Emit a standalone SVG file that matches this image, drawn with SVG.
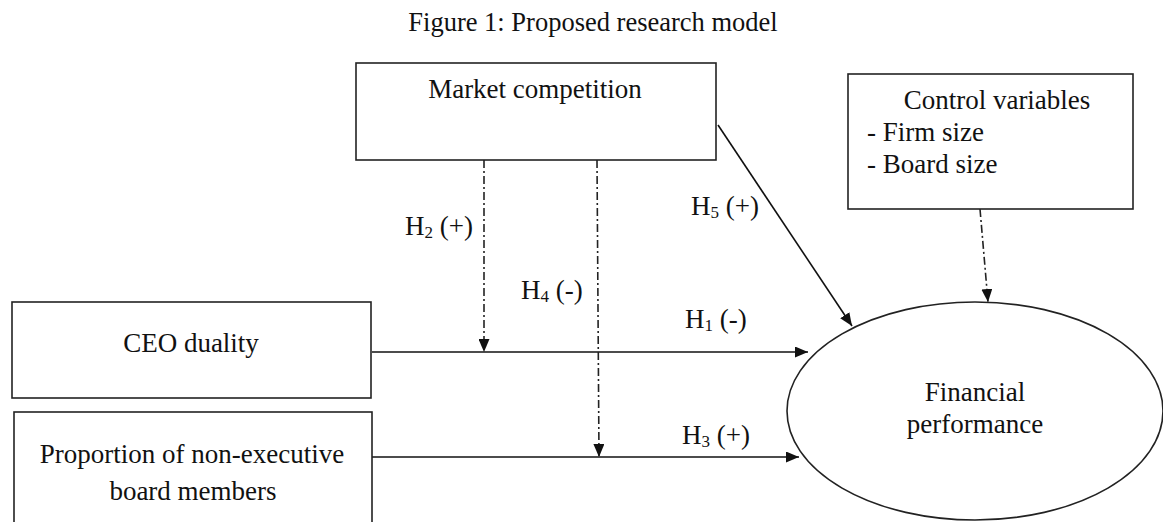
<svg xmlns="http://www.w3.org/2000/svg" width="1163" height="522" viewBox="0 0 1163 522">
<style>
text{font-family:"Liberation Serif","Times New Roman",serif;font-size:27px;fill:#111}
.title{font-size:26.5px}
.box{fill:#fff;stroke:#222;stroke-width:1.6}
.solid{stroke:#111;stroke-width:1.6;fill:none}
.dash{stroke:#222;stroke-width:1.6;fill:none;stroke-dasharray:8 3 2 3}
.sub{font-size:17px}
</style>
<defs>
<marker id="ah" markerUnits="userSpaceOnUse" markerWidth="14" markerHeight="11" refX="13" refY="5.5" orient="auto">
<path d="M0,0 L13,5.5 L0,11 z" fill="#111"/>
</marker>
</defs>
<rect width="1163" height="522" fill="#fff"/>
<text class="title" x="593" y="31" text-anchor="middle">Figure 1: Proposed research model</text>

<g id="connectors">
<line class="solid" x1="372" y1="352" x2="808" y2="352" marker-end="url(#ah)"/>
<line class="solid" x1="372" y1="457" x2="799" y2="457" marker-end="url(#ah)"/>
<line class="solid" x1="718" y1="125" x2="852" y2="326" marker-end="url(#ah)"/>
<line class="dash" x1="484" y1="160" x2="484" y2="352" marker-end="url(#ah)"/>
<line class="dash" x1="597" y1="160" x2="599" y2="457" marker-end="url(#ah)"/>
<line class="dash" x1="980" y1="209" x2="988" y2="302" marker-end="url(#ah)"/>
<text x="405" y="235">H<tspan class="sub" dy="3">2</tspan><tspan dy="-3"> (+)</tspan></text>
<text x="521" y="299">H<tspan class="sub" dy="3">4</tspan><tspan dy="-3"> (-)</tspan></text>
<text x="685" y="328">H<tspan class="sub" dy="3">1</tspan><tspan dy="-3"> (-)</tspan></text>
<text x="691" y="215">H<tspan class="sub" dy="3">5</tspan><tspan dy="-3"> (+)</tspan></text>
<text x="682" y="444">H<tspan class="sub" dy="3">3</tspan><tspan dy="-3"> (+)</tspan></text>
</g>

<g id="market">
<rect class="box" x="356" y="63" width="360" height="97"/>
<text x="535" y="98" text-anchor="middle">Market competition</text>
</g>

<g id="control">
<rect class="box" x="848" y="74" width="285" height="135"/>
<text x="997" y="109" text-anchor="middle">Control variables</text>
<text x="867" y="141">- Firm size</text>
<text x="867" y="173">- Board size</text>
</g>

<g id="ceo">
<rect class="box" x="12" y="302" width="359" height="96"/>
<text x="191" y="352" text-anchor="middle">CEO duality</text>
</g>

<g id="proportion">
<rect class="box" x="14" y="412" width="358" height="114"/>
<text x="192" y="463" text-anchor="middle">Proportion of non-executive</text>
<text x="193" y="500" text-anchor="middle">board members</text>
</g>

<g id="performance">
<ellipse class="box" cx="975" cy="411" rx="188" ry="109"/>
<text x="975" y="401" text-anchor="middle">Financial</text>
<text x="975" y="433" text-anchor="middle">performance</text>
</g>
</svg>
